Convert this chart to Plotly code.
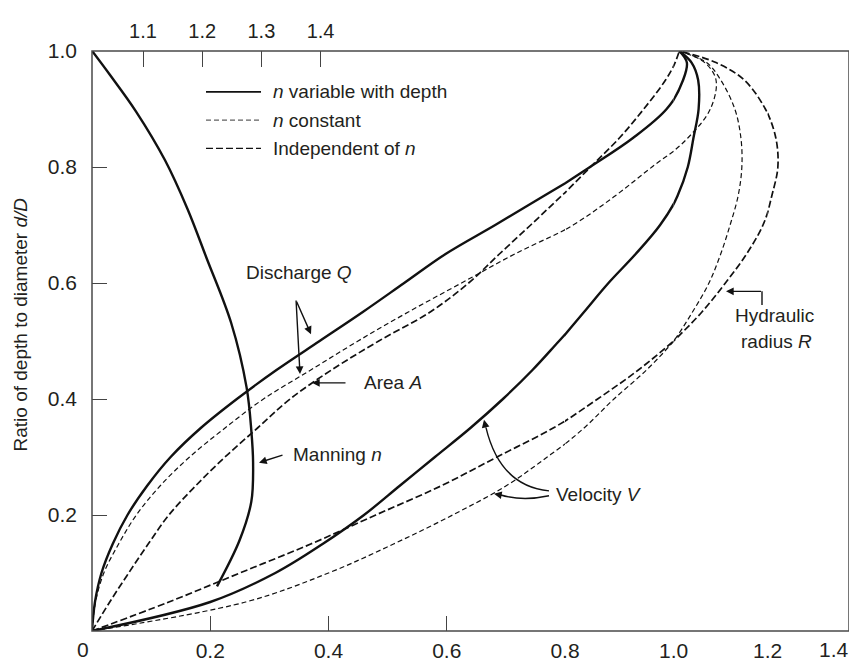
import plotly.graph_objects as go

# ---------------- data ----------------
depth = [0, 0.05, 0.1, 0.15, 0.2, 0.25, 0.3, 0.35, 0.4, 0.45, 0.5,
         0.55, 0.6, 0.65, 0.7, 0.75, 0.8, 0.85, 0.9, 0.95, 0.98, 1.0]

discharge_var = [0, 0.005, 0.016, 0.035, 0.060, 0.093, 0.133, 0.184, 0.245, 0.312, 0.385,
                 0.458, 0.528, 0.598, 0.682, 0.764, 0.846, 0.925, 0.987, 1.02, 1.028, 1.012]
velocity_var = [0, 0.20, 0.31, 0.39, 0.46, 0.52, 0.58, 0.64, 0.695, 0.745, 0.79,
                0.835, 0.88, 0.93, 0.975, 1.008, 1.03, 1.042, 1.053, 1.052, 1.038, 1.012]
discharge_const = [0, 0.006, 0.02, 0.045, 0.075, 0.115, 0.165, 0.225, 0.29, 0.37, 0.45,
                   0.535, 0.625, 0.715, 0.815, 0.892, 0.96, 1.03, 1.078, 1.09, 1.066, 1.012]
velocity_const = [0, 0.26, 0.40, 0.51, 0.61, 0.70, 0.77, 0.835, 0.89, 0.95, 1.0,
                  1.04, 1.075, 1.10, 1.12, 1.137, 1.145, 1.143, 1.13, 1.10, 1.07, 1.012]
area = [0, 0.03, 0.062, 0.095, 0.13, 0.175, 0.225, 0.28, 0.335, 0.405, 0.485,
        0.572, 0.637, 0.689, 0.742, 0.794, 0.847, 0.90, 0.945, 0.985, 1.003, 1.012]
hyd_radius = [0, 0.13, 0.25, 0.37, 0.48, 0.59, 0.685, 0.78, 0.86, 0.935, 1.0,
              1.06, 1.11, 1.155, 1.19, 1.21, 1.225, 1.22, 1.195, 1.15, 1.09, 1.012]

manning_depth = [1.0, 0.959, 0.896, 0.812, 0.728, 0.644, 0.531, 0.42, 0.346, 0.29, 0.223, 0.156, 0.077]
manning_n = [1.014, 1.044, 1.088, 1.137, 1.175, 1.207, 1.249, 1.275, 1.283, 1.286, 1.283, 1.263, 1.225]

x_ticks = [0.2, 0.4, 0.6, 0.8, 1.0, 1.2]
x_tick_labels = ["0.2", "0.4", "0.6", "0.8", "1.0", "1.2"]
y_ticks = [0.2, 0.4, 0.6, 0.8, 1.0]
y_tick_labels = ["0.2", "0.4", "0.6", "0.8", "1.0"]
n_ticks = [1.1, 1.2, 1.3, 1.4]
n_tick_labels = ["1.1", "1.2", "1.3", "1.4"]

# ---------------- layout geometry ----------------
# The page body keeps its default 8px margin, so the figure is drawn 8px
# right of / below the window corner; margins compensate for that.
W, H = 857, 666
OFF = 8
L_SCR, R_SCR, T_SCR, B_SCR = 92, 849, 37, 633   # plot frame in window pixels
ML = L_SCR - OFF
MT = T_SCR - OFF
MR = W - (R_SCR - OFF)
MB = H - (B_SCR - OFF)
PW = R_SCR - L_SCR
PH = B_SCR - T_SCR


def fx(p):
    return (p - L_SCR) / PW


def fy(p):
    return (B_SCR - p) / PH


# the printed x scale is not uniform: four linear pieces
seg_ranges = [(0.0, 0.8), (0.8, 1.0), (1.0, 1.2), (1.2, 1.4)]
seg_px = [92, 565, 673.7, 767.7, 849]
seg_axes = ["x", "x3", "x4", "x5"]

FONT = "Liberation Sans, Arial, Helvetica, sans-serif"
TXT = "#231f20"
INK = "#111111"
FS = 19
TFS = 21

styles = {
    "solid": dict(color=INK, width=2.4),
    "const": dict(color=INK, width=1.2, dash="5px,3px"),
    "indep": dict(color=INK, width=1.7, dash="7px,3px"),
}
curves = [
    (discharge_var, "solid"),
    (velocity_var, "solid"),
    (discharge_const, "const"),
    (velocity_const, "const"),
    (area, "indep"),
    (hyd_radius, "indep"),
]

fig = go.Figure()
for ax in seg_axes:
    for vals, st in curves:
        fig.add_trace(go.Scatter(
            x=vals, y=depth, xaxis=ax, yaxis="y", mode="lines",
            line=dict(shape="spline", smoothing=1.0, **styles[st]),
            showlegend=False, hoverinfo="skip"))

fig.add_trace(go.Scatter(
    x=manning_n, y=manning_depth, xaxis="x2", yaxis="y", mode="lines",
    line=dict(shape="spline", smoothing=1.0, **styles["solid"]),
    showlegend=False, hoverinfo="skip"))

common = dict(showgrid=False, zeroline=False, showline=False, ticks="inside",
              ticklen=15, tickwidth=1.2, tickcolor="#444444",
              tickfont=dict(family=FONT, size=TFS, color=TXT), fixedrange=True)

layout_axes = {}
for i, (ax, (r0, r1)) in enumerate(zip(seg_axes, seg_ranges)):
    d0 = fx(seg_px[i])
    d1 = fx(seg_px[i + 1])
    tv = [t for t, lab in zip(x_ticks, x_tick_labels) if r0 <= t < r1]
    tt = [lab for t, lab in zip(x_ticks, x_tick_labels) if r0 <= t < r1]
    name = "xaxis" if ax == "x" else "xaxis" + ax[1:]
    layout_axes[name] = dict(domain=[max(d0, 0), min(d1, 1)], range=[r0, r1],
                             tickmode="array", tickvals=tv, ticktext=tt,
                             anchor="y", ticklabelstandoff=5, **common)

n_slope = 591.8  # px per unit of n ratio on top scale
layout_axes["xaxis2"] = dict(overlaying="x", side="top", anchor="y",
                             range=[1.0138, 1.0138 + (seg_px[1] - seg_px[0]) / n_slope],
                             tickmode="array", tickvals=n_ticks, ticktext=n_tick_labels,
                             ticklabelstandoff=8,
                             **{**common, "ticklen": 16,
                                "tickfont": dict(family=FONT, size=20, color=TXT)})
layout_axes["yaxis"] = dict(domain=[0, 1], range=[0, 1], anchor="x",
                            tickmode="array", tickvals=y_ticks, ticktext=y_tick_labels,
                            ticklabelstandoff=14, **common)

shapes = [dict(type="rect", xref="paper", yref="paper", x0=0, x1=1, y0=0, y1=1,
               line=dict(color="#4a4a4a", width=1.5))]

# legend keys
leg = [("<i>n</i> variable with depth", "solid", 79),
       ("<i>n</i> constant", "const", 108),
       ("Independent of <i>n</i>", "indep", 137)]
annotations = []
for text, st, yy in leg:
    ln = dict(color=INK, width=styles[st]["width"] * 0.7)
    if "dash" in styles[st]:
        ln["dash"] = styles[st]["dash"]
    shapes.append(dict(type="line", xref="paper", yref="paper",
                       x0=fx(206), x1=fx(261), y0=fy(yy), y1=fy(yy), line=ln))
    annotations.append(dict(text=text, xref="paper", yref="paper", x=fx(271), y=fy(yy),
                            xanchor="left", yanchor="middle", showarrow=False,
                            font=dict(family=FONT, size=FS, color=TXT)))


def label(text, x, y, anchor="left", size=FS):
    annotations.append(dict(text=text, xref="paper", yref="paper", x=fx(x), y=fy(y),
                            xanchor=anchor, yanchor="middle", showarrow=False,
                            font=dict(family=FONT, size=size, color=TXT)))


def arrow(tail, head, width=1.4):
    annotations.append(dict(text="", xref="paper", yref="paper",
                            x=fx(head[0]), y=fy(head[1]),
                            ax=tail[0] - head[0], ay=tail[1] - head[1],
                            axref="pixel", ayref="pixel",
                            showarrow=True, arrowhead=2, arrowsize=1.1,
                            arrowwidth=width, arrowcolor=INK))


def curve(p0, c, p1):
    path = "M {} {} Q {} {} {} {}".format(fx(p0[0]), fy(p0[1]), fx(c[0]), fy(c[1]),
                                          fx(p1[0]), fy(p1[1]))
    shapes.append(dict(type="path", xref="paper", yref="paper", path=path,
                       line=dict(color=INK, width=1.4)))


label("Discharge <i>Q</i>", 244, 265)
arrow((296, 294), (311, 328))
arrow((296, 294), (300, 369))
label("Area <i>A</i>", 362, 378)
arrow((347, 378), (312, 378))
label("Manning <i>n</i>", 291, 452)
arrow((284, 452), (259, 460))
label("Velocity <i>V</i>", 554, 493)
curve((549, 489), (500, 484), (486, 424))
arrow((486, 425), (484, 416))
curve((549, 494), (522, 500), (500, 493))
arrow((501, 493.3), (494, 492))
label("Hydraulic", 733, 309)
label("radius <i>R</i>", 739, 336)
shapes.append(dict(type="line", xref="paper", yref="paper",
                   x0=fx(762), x1=fx(762), y0=fy(298), y1=fy(284),
                   line=dict(color=INK, width=1.4)))
arrow((762.5, 284), (726, 284))

# corner labels
label("0", 83, 652, anchor="center", size=TFS)
label("1.4", 851, 652, anchor="right", size=TFS)
annotations.append(dict(text="Ratio of depth to diameter <i>d/D</i>", xref="paper", yref="paper",
                        x=fx(20), y=fy(318), textangle=-90, xanchor="center", yanchor="middle",
                        showarrow=False, font=dict(family=FONT, size=FS, color=TXT)))

fig.update_layout(
    width=W, height=H, autosize=False,
    margin=dict(l=ML, r=MR, t=MT, b=MB, pad=0),
    paper_bgcolor="white", plot_bgcolor="white",
    showlegend=False, shapes=shapes, annotations=annotations,
    font=dict(family=FONT, size=FS, color=TXT),
    **layout_axes,
)

fig.write_html("out.html")
